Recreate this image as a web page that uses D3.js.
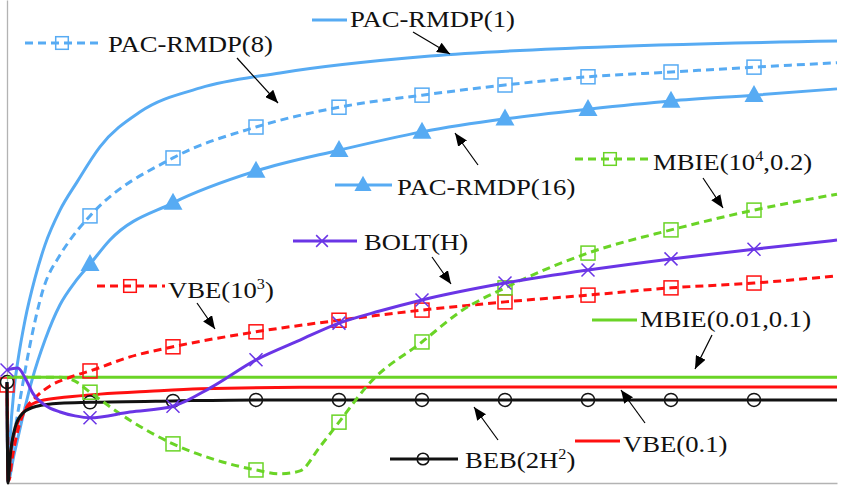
<!DOCTYPE html>
<html>
<head>
<meta charset="utf-8">
<script src="https://cdn.jsdelivr.net/npm/d3@7"></script>
<style>
  body { margin: 0; background: #fff; }
  svg { display: block; }
  .lbl { font-family: "Liberation Serif", "Times New Roman", serif; font-size: 23px; fill: #111; }
</style>
</head>
<body>
<svg id="chart"></svg>
<script>
// series values: [x, y] with x = episode unit (0..10), y = normalised reward (0..100)
const pac1 = [[0,20.9],[0.012,0.4],[0.036,8.9],[0.084,19.3],[0.133,25.5],[0.217,33.7],[0.337,42.4],[0.458,49.3],
  [0.639,56.5],[0.843,62.3],[1.12,69.6],[1.6,76.8],[2.33,81.8],[3.29,84.9],[5.1,88.4],[6.9,90.1],[10,91.5]];
const pac8 = [[0,20.9],[0.012,0.4],[0.06,6.8],[0.157,17.2],[0.277,28.6],[0.434,40.0],[0.639,47.2],[0.759,50.3],
  [1,55.3],[2,67.3],[3,73.7],[4,77.8],[5,80.3],[6,82.4],[7,84.1],[8,85.1],[9,86.1],[10,87.0]];
const pac16 = [[0,20.9],[0.012,0.4],[0.084,5.8],[0.18,13.0],[0.301,21.3],[0.458,29.6],[0.639,36.9],[0.819,41.6],
  [1,45.3],[1.24,50.3],[2,58.0],[3,64.6],[4,68.9],[5,72.7],[6,75.4],[7,77.4],[8,79.1],[9,80.3],[10,81.6]];
const bolt = [[0,23.4],[0.13,23.8],[0.22,21.7],[0.31,18.6],[0.46,16.1],[0.64,14.7],[0.82,13.9],[1,13.5],
  [1.48,14.7],[2,15.9],[2.45,19.7],[3,25.5],[3.53,29.6],[4,33.1],[4.49,35.6],[5,37.9],[6,41.4],[7,44.1],
  [8,46.4],[9,48.4],[10,50.3]];
const vbe1000 = [[0,20.3],[0.024,0.6],[0.06,4.8],[0.133,11.0],[0.217,15.1],[0.337,17.6],[0.518,20.1],[0.759,21.9],
  [1,23.2],[1.48,26.1],[2,28.2],[3,31.3],[4,33.7],[5,35.8],[6,37.5],[7,38.9],[8,40.4],[9,41.4],[10,42.9]];
const vbe01 = [[0,20.7],[0.012,0.4],[0.048,6.8],[0.12,12.0],[0.241,15.5],[0.398,17.0],[0.723,17.8],[1.12,18.4],
  [1.72,19.0],[2.33,19.5],[3.53,19.8],[10,19.9]];
const beb = [[0,20.9],[0.012,0],[0.036,5.2],[0.096,11.4],[0.193,14.5],[0.361,15.9],[0.639,16.5],[1,16.7],
  [2,17.0],[3,17.2],[4,17.2],[5,17.2],[6,17.2],[7,17.2],[8,17.2],[9,17.2],[10,17.2]];
const mbie001 = [[0,21.9],[10,21.9]];
const mbie1e4 = [[0,21.9],[0.64,21.9],[0.82,21.1],[1,18.8],[1.48,13.0],[2,8.1],[2.51,4.8],[3,2.7],[3.29,1.9],
  [3.53,2.5],[3.77,7.5],[4,12.6],[4.37,20.7],[5,29.2],[5.49,35.8],[6,40.4],[7,47.6],[8,52.4],[9,56.5],[10,59.8]];

const blue = "#57abf3", purple = "#6a35e6", red = "#ff1010", green = "#6ad426", black = "#111";

// draw order follows the original figure
const series = [
  { name: "PAC-RMDP(1)",  data: pac1,    color: blue,   dash: null,  marker: null },
  { name: "PAC-RMDP(8)",  data: pac8,    color: blue,   dash: "8,5", marker: "square", from: 1 },
  { name: "PAC-RMDP(16)", data: pac16,   color: blue,   dash: null,  marker: "triangle", from: 1 },
  { name: "MBIE(0.01,0.1)", data: mbie001, color: green, dash: null, marker: null },
  { name: "VBE(0.1)",     data: vbe01,   color: red,    dash: null,  marker: null },
  { name: "VBE(10^3)",    data: vbe1000, color: red,    dash: "8,5", marker: "square", from: 0 },
  { name: "BEB(2H^2)",    data: beb,     color: black,  dash: null,  marker: "circle", from: 0 },
  { name: "MBIE(10^4,0.2)", data: mbie1e4, color: green, dash: "8,5", marker: "square", from: 1 },
  { name: "BOLT(H)",      data: bolt,    color: purple, dash: null,  marker: "cross", from: 0 }
];

// annotation layout: label parts, text anchor point, legend sample, arrow
const notes = [
  { s: 0, parts: [["PAC-RMDP(1)"]], tx: 350, ty: 27, lx: [312, 347], ly: 20, mx: null, arrow: [413, 32, 450, 54] },
  { s: 1, parts: [["PAC-RMDP(8)"]], tx: 108, ty: 52, lx: [25, 100], ly: 43, mx: 62, arrow: [237, 58, 278, 103] },
  { s: 2, parts: [["PAC-RMDP(16)"]], tx: 397, ty: 195, lx: [335, 392], ly: 185, mx: 363, arrow: [478, 165, 455, 133] },
  { s: 8, parts: [["BOLT(H)"]], tx: 364, ty: 250, lx: [293, 357], ly: 241, mx: 322, arrow: [432, 257, 451, 284] },
  { s: 5, parts: [["VBE(10"], ["3", true], [")"]], tx: 168, ty: 298, lx: [97, 165], ly: 286, mx: 130, arrow: [197, 303, 215, 329] },
  { s: 7, parts: [["MBIE(10"], ["4", true], [",0.2)"]], tx: 653, ty: 170, lx: [575, 650], ly: 159, mx: 610, arrow: [703, 178, 723, 208] },
  { s: 3, parts: [["MBIE(0.01,0.1)"]], tx: 640, ty: 327, lx: [592, 637], ly: 320, mx: null, arrow: [712, 335, 695, 369] },
  { s: 4, parts: [["VBE(0.1)"]], tx: 623, ty: 452, lx: [575, 620], ly: 441, mx: null, arrow: [645, 423, 621, 390] },
  { s: 6, parts: [["BEB(2H"], ["2", true], [")"]], tx: 465, ty: 468, lx: [390, 458], ly: 459, mx: 423, arrow: [498, 440, 474, 407] }
];

const W = 842, H = 492;
const margin = { top: 0, right: 5, bottom: 9, left: 7 };
const width = W - margin.left - margin.right;
const height = H - margin.top - margin.bottom;

const svg = d3.select("#chart").attr("width", W).attr("height", H);

svg.append("defs").append("marker")
  .attr("id", "head")
  .attr("markerUnits", "userSpaceOnUse")
  .attr("viewBox", "0 0 12 10")
  .attr("refX", 12).attr("refY", 5)
  .attr("markerWidth", 13).attr("markerHeight", 11)
  .attr("orient", "auto")
  .append("path").attr("d", "M0,0 L12,5 L0,10 Z").attr("fill", "#000");

const chart = svg.append("g").attr("transform", `translate(${margin.left},${margin.top})`);

const x = d3.scaleLinear().domain([0, 10]).range([0, width]);
const y = d3.scaleLinear().domain([0, 100]).range([height, 0]);

// frame: left and bottom axis lines only
chart.append("g").attr("transform", `translate(0,${height})`)
  .call(d3.axisBottom(x).tickValues([]).tickSizeOuter(0))
  .call(g => g.select(".domain").attr("stroke", "#b3b3b3").attr("stroke-width", 1.3));
chart.append("g")
  .call(d3.axisLeft(y).tickValues([]).tickSizeOuter(0))
  .call(g => g.select(".domain").attr("stroke", "#b3b3b3").attr("stroke-width", 1.3));

const line = d3.line().x(d => x(d[0])).y(d => y(d[1])).curve(d3.curveMonotoneX);

function drawMarker(g, type, cx, cy, color, k) {
  k = k || 1;
  if (type === "square") {
    const s = 14 * k;
    g.append("rect").attr("x", cx - s / 2).attr("y", cy - s / 2).attr("width", s).attr("height", s)
      .attr("fill", "none").attr("stroke", color).attr("stroke-width", 1.5);
  } else if (type === "triangle") {
    const w = 19 * k, h = 17 * k;
    g.append("path")
      .attr("d", `M${cx},${cy - h * 0.6} L${cx + w / 2},${cy + h * 0.4} L${cx - w / 2},${cy + h * 0.4} Z`)
      .attr("fill", color);
  } else if (type === "circle") {
    g.append("circle").attr("cx", cx).attr("cy", cy).attr("r", 6.5 * k)
      .attr("fill", "none").attr("stroke", color).attr("stroke-width", 1.5);
  } else if (type === "cross") {
    const r = 6.5 * k;
    g.append("path")
      .attr("d", `M${cx - r},${cy - r} L${cx + r},${cy + r} M${cx - r},${cy + r} L${cx + r},${cy - r}`)
      .attr("stroke", color).attr("stroke-width", 1.5).attr("fill", "none");
  }
}

series.forEach(s => {
  const g = chart.append("g");
  g.append("path")
    .datum(s.data)
    .attr("fill", "none")
    .attr("stroke", s.color)
    .attr("stroke-width", 3)
    .attr("stroke-dasharray", s.dash)
    .attr("d", line);
  if (s.marker) {
    s.data.filter(d => Number.isInteger(d[0]) && d[0] >= s.from && d[0] < 10)
      .forEach(d => drawMarker(g, s.marker, x(d[0]), y(d[1]), s.color));
  }
});

// annotations in page coordinates
const ann = svg.append("g");
notes.forEach(n => {
  const s = series[n.s];
  ann.append("line")
    .attr("x1", n.lx[0]).attr("x2", n.lx[1]).attr("y1", n.ly).attr("y2", n.ly)
    .attr("stroke", s.color).attr("stroke-width", 3)
    .attr("stroke-dasharray", s.dash);
  if (s.marker && n.mx != null) drawMarker(ann, s.marker, n.mx, n.ly, s.color, 0.9);

  const t = ann.append("text")
    .attr("class", "lbl")
    .attr("transform", `translate(${n.tx},${n.ty}) scale(1.16,1)`);
  n.parts.forEach(p => {
    const ts = t.append("tspan").text(p[0]);
    if (p[1]) ts.attr("font-size", "14px").attr("dy", -9);
    else if (t.selectAll("tspan").size() > 1) ts.attr("dy", 9);
  });

  ann.append("line")
    .attr("x1", n.arrow[0]).attr("y1", n.arrow[1])
    .attr("x2", n.arrow[2]).attr("y2", n.arrow[3])
    .attr("stroke", "#000").attr("stroke-width", 1.2)
    .attr("marker-end", "url(#head)");
});
</script>
</body>
</html>
